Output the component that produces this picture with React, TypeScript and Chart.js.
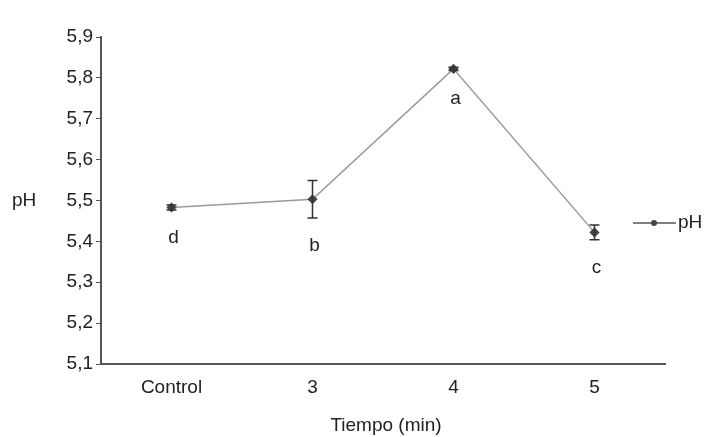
import React, { useEffect, useRef } from "react";
import { Chart, registerables } from "chart.js";

Chart.register(...registerables);

const categories = ["Control", "3", "4", "5"];
const phValues = [5.483, 5.503, 5.822, 5.422];
const phErrors = [0.006, 0.046, 0.004, 0.018];
const letters = ["d", "b", "a", "c"];
const seriesName = "pH";
const yTitle = "pH";
const xTitle = "Tiempo (min)";
const yMin = 5.1;
const yMax = 5.9;
const yStep = 0.1;

const FONT = "'Liberation Sans', Arial, sans-serif";
const FS = 19;
const TEXT = "#222";

const extrasPlugin = {
  id: "extras",
  afterDatasetsDraw(chart: any) {
    const { ctx, scales, chartArea } = chart;
    const x = scales.x;
    const y = scales.y;
    ctx.save();
    // error bars
    ctx.strokeStyle = "#333";
    ctx.lineWidth = 1.5;
    phValues.forEach((v, i) => {
      const e = phErrors[i];
      const px = x.getPixelForValue(i);
      const top = y.getPixelForValue(v + e);
      const bot = y.getPixelForValue(v - e);
      ctx.beginPath();
      ctx.moveTo(px, top);
      ctx.lineTo(px, bot);
      ctx.moveTo(px - 5, top);
      ctx.lineTo(px + 5, top);
      ctx.moveTo(px - 5, bot);
      ctx.lineTo(px + 5, bot);
      ctx.stroke();
    });
    // letters
    ctx.fillStyle = TEXT;
    ctx.font = `${FS}px ${FONT}`;
    ctx.textAlign = "center";
    ctx.textBaseline = "middle";
    phValues.forEach((v, i) => {
      const px = x.getPixelForValue(i);
      const bot = y.getPixelForValue(v - phErrors[i]);
      ctx.fillText(letters[i], px + 2, bot + 28);
    });
    // y title
    ctx.textAlign = "left";
    ctx.fillText(yTitle, 12, y.getPixelForValue(5.5));
    // x title
    ctx.textAlign = "center";
    ctx.fillText(xTitle, (chartArea.left + chartArea.right) / 2 + 3, 426);
    // legend
    const ly = y.getPixelForValue(5.445);
    ctx.strokeStyle = "#555";
    ctx.lineWidth = 1.5;
    ctx.beginPath();
    ctx.moveTo(633, ly);
    ctx.lineTo(676, ly);
    ctx.stroke();
    ctx.fillStyle = "#444";
    ctx.beginPath();
    ctx.arc(654, ly, 3, 0, Math.PI * 2);
    ctx.fill();
    ctx.fillStyle = TEXT;
    ctx.textAlign = "left";
    ctx.fillText(seriesName, 678, ly);
    ctx.restore();
  },
};

export default function App() {
  const ref = useRef<HTMLCanvasElement>(null);
  useEffect(() => {
    document.body.style.margin = "0";
    const chart = new Chart(ref.current!, {
      type: "line",
      data: {
        labels: categories,
        datasets: [
          {
            label: seriesName,
            data: phValues,
            borderColor: "#9a9a9a",
            borderWidth: 1.5,
            pointStyle: "rectRot",
            pointRadius: 4,
            pointBackgroundColor: "#444",
            pointBorderColor: "#444",
            tension: 0,
          },
        ],
      },
      options: {
        animation: false,
        responsive: false,
        layout: { padding: { top: 37, right: 40, left: 0, bottom: 0 } },
        plugins: { legend: { display: false }, tooltip: { enabled: false } },
        scales: {
          x: {
            offset: true,
            grid: { display: false },
            border: { display: true, color: "#555", width: 2 },
            ticks: { color: TEXT, font: { family: FONT, size: FS }, padding: 4 },
            afterFit(s: any) {
              s.height = 73;
            },
          },
          y: {
            min: yMin,
            max: yMax,
            grid: { display: true, drawOnChartArea: false, drawTicks: true, tickLength: 5, color: "#555" },
            border: { display: true, color: "#555", width: 2 },
            ticks: {
              stepSize: yStep,
              color: TEXT,
              font: { family: FONT, size: FS },
              padding: 3,
              callback: (v: any) => Number(v).toFixed(1).replace(".", ","),
            },
            afterFit(s: any) {
              s.width = 101;
            },
          },
        },
      },
      plugins: [extrasPlugin],
    });
    return () => chart.destroy();
  }, []);
  return (
    <div style={{ width: 705, height: 437, background: "#fff" }}>
      <canvas ref={ref} width={705} height={437} />
    </div>
  );
}
